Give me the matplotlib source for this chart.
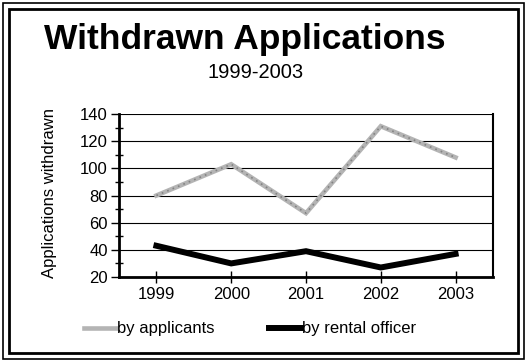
import numpy as np
import matplotlib

matplotlib.use("Agg")
import matplotlib.pyplot as plt
from matplotlib.patches import Rectangle

years = ["1999", "2000", "2001", "2002", "2003"]
by_applicants = [80, 103, 67, 131, 108]
by_rental_officer = [43, 30, 39, 27, 37]
y_ticks = [20, 40, 60, 80, 100, 120, 140]

plt.rcParams["font.family"] = ["Liberation Sans", "DejaVu Sans"]

W, H = 527, 362
fig = plt.figure(figsize=(W / 100, H / 100), dpi=100)

# double frame around the whole chart
for pad, lw in [(3, 1.2), (9, 2.0)]:
    fig.patches.append(Rectangle((pad / W, pad / H), 1 - 2 * pad / W, 1 - 2 * pad / H,
                                 transform=fig.transFigure, fill=False,
                                 ec="black", lw=lw))

fig.text(245 / W, 1 - 40 / H, "Withdrawn Applications", ha="center", va="center",
         fontsize=25.5, fontweight="bold")
fig.text(256 / W, 1 - 72 / H, "1999-2003", ha="center", va="center", fontsize=14.5)

ax = fig.add_axes([119 / W, 1 - 277 / H, (493 - 119) / W, (277 - 114) / H])
x = np.arange(len(years))
ax.plot(x, by_applicants, color="#b4b4b4", lw=3.3, solid_joinstyle="miter",
        label="by applicants")
# speckled look of the grey line
ax.plot(x, by_applicants, color="#6e6e6e", lw=1.2, ls=(0, (1, 2.5)), alpha=0.7)
ax.plot(x, by_rental_officer, color="black", lw=4.3, solid_joinstyle="miter",
        label="by rental officer")

ax.set_xlim(-0.5, len(years) - 0.5)
ax.set_ylim(20, 140)
ax.set_yticks(y_ticks)
ax.set_yticks(np.arange(30, 140, 20), minor=True)
ax.set_xticks(x)
ax.set_xticklabels(years)
ax.yaxis.grid(True, color="black", lw=0.8)
ax.set_axisbelow(True)
ax.tick_params(axis="y", which="major", direction="out", length=6, width=1,
               labelsize=12, pad=2)
ax.tick_params(axis="y", which="minor", direction="inout", length=6, width=1)
ax.tick_params(axis="x", direction="inout", length=8, width=1, labelsize=12, pad=3)
for s in ["left", "bottom"]:
    ax.spines[s].set_linewidth(2)
ax.spines["right"].set_linewidth(1.5)
ax.spines["top"].set_visible(False)
ax.set_ylabel("Applications withdrawn", fontsize=12)
ax.yaxis.set_label_coords(-0.166, 0.518)

fig.legend(loc="center", bbox_to_anchor=(250 / W, 1 - 329 / H), ncol=2, frameon=False,
           fontsize=12, handlelength=1.9, handletextpad=0.05, columnspacing=3.3)

fig.savefig("out.png", dpi=100)
